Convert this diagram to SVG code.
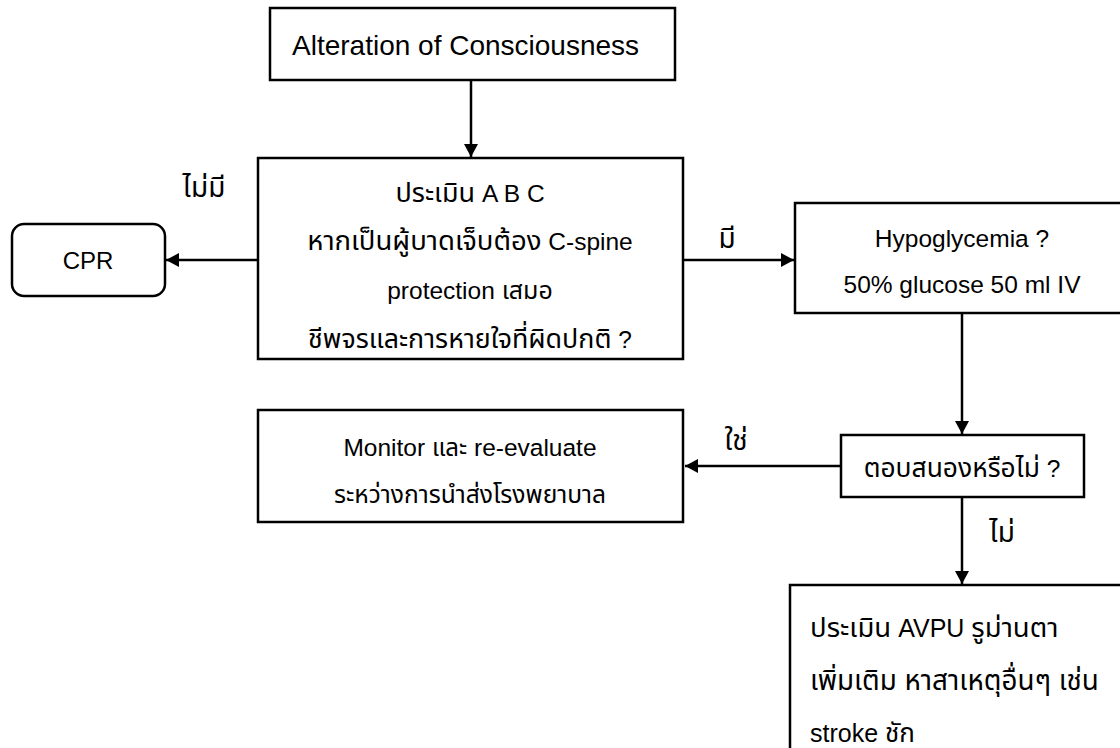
<svg xmlns="http://www.w3.org/2000/svg" width="1120" height="748" viewBox="0 0 1120 748">
  <style>
    .box { fill: #ffffff; stroke: #000000; stroke-width: 2.5; }
    .edge { fill: none; stroke: #000000; stroke-width: 2.5; }
    text { font-family: "Liberation Sans", Arial, "Noto Sans Thai", Tahoma, sans-serif; fill: #000000; }
    .t { font-size: 24.5px; text-anchor: middle; }
    .l { font-size: 25px; }
    .lab { font-size: 28px; text-anchor: middle; }
  </style>
  <defs>
    <marker id="arrow" viewBox="0 0 13 14" refX="13" refY="7" markerWidth="13" markerHeight="14" markerUnits="userSpaceOnUse" orient="auto">
      <path d="M0,0 L13,7 L0,14 Z" fill="#000000"/>
    </marker>
  </defs>

  <rect width="1120" height="748" fill="#ffffff"/>

  <!-- connectors -->
  <g id="connectors">
    <line class="edge" x1="471" y1="80" x2="471" y2="157" marker-end="url(#arrow)"/>
    <line class="edge" x1="258" y1="260" x2="166" y2="260" marker-end="url(#arrow)"/>
    <line class="edge" x1="683" y1="260" x2="794" y2="260" marker-end="url(#arrow)"/>
    <line class="edge" x1="962" y1="313" x2="962" y2="434" marker-end="url(#arrow)"/>
    <line class="edge" x1="841" y1="466" x2="685" y2="466" marker-end="url(#arrow)"/>
    <line class="edge" x1="962" y1="497" x2="962" y2="584" marker-end="url(#arrow)"/>
    <text class="lab" x="204" y="197">ไม่มี</text>
    <text class="lab" x="727" y="248">มี</text>
    <text class="lab" x="736" y="450">ใช่</text>
    <text class="lab" x="1002" y="542">ไม่</text>
  </g>

  <!-- start -->
  <g id="start">
    <rect class="box" x="270" y="8" width="405" height="72"/>
    <text x="292" y="55" style="font-size:28px">Alteration of Consciousness</text>
  </g>

  <!-- primary survey -->
  <g id="assess-abc">
    <rect class="box" x="258" y="158" width="425" height="201"/>
    <text class="t" x="470" y="202"><tspan style="font-size:27px">ประเมิน</tspan> A B C</text>
    <text class="t" x="470" y="250"><tspan style="font-size:27.5px">หากเป็นผู้บาดเจ็บต้อง</tspan> C-spine</text>
    <text class="t" x="470" y="299">protection <tspan style="font-size:25px">เสมอ</tspan></text>
    <text class="t" x="470" y="348"><tspan style="font-size:26.8px">ชีพจรและการหายใจที่ผิดปกติ</tspan> ?</text>
  </g>

  <!-- CPR -->
  <g id="cpr">
    <rect class="box" x="12" y="224" width="153" height="72" rx="12" ry="12"/>
    <text class="t" x="88" y="269" style="font-size:24px">CPR</text>
  </g>

  <!-- hypoglycemia -->
  <g id="hypoglycemia">
    <rect class="box" x="795" y="203" width="340" height="110"/>
    <text class="t" x="962" y="247">Hypoglycemia ?</text>
    <text class="t" x="962" y="293">50% glucose 50 ml IV</text>
  </g>

  <!-- response check -->
  <g id="response">
    <rect class="box" x="841" y="435" width="243" height="62"/>
    <text class="t" x="962" y="477"><tspan style="font-size:26.4px">ตอบสนองหรือไม่</tspan> ?</text>
  </g>

  <!-- monitor -->
  <g id="monitor">
    <rect class="box" x="258" y="410" width="425" height="112"/>
    <text class="t" x="470" y="456">Monitor <tspan style="font-size:24px">และ</tspan> re-evaluate</text>
    <text class="t" x="470" y="503" style="font-size:24.6px">ระหว่างการนำส่งโรงพยาบาล</text>
  </g>

  <!-- further assessment -->
  <g id="further">
    <rect class="box" x="790" y="585" width="345" height="180"/>
    <text class="l" x="810" y="637"><tspan style="font-size:27.5px">ประเมิน</tspan> AVPU <tspan style="font-size:27.5px">รูม่านตา</tspan></text>
    <text class="l" x="810" y="690" style="font-size:27.8px">เพิ่มเติม หาสาเหตุอื่นๆ เช่น</text>
    <text class="l" x="810" y="742">stroke <tspan style="font-size:26px">ชัก</tspan></text>
  </g>
</svg>
